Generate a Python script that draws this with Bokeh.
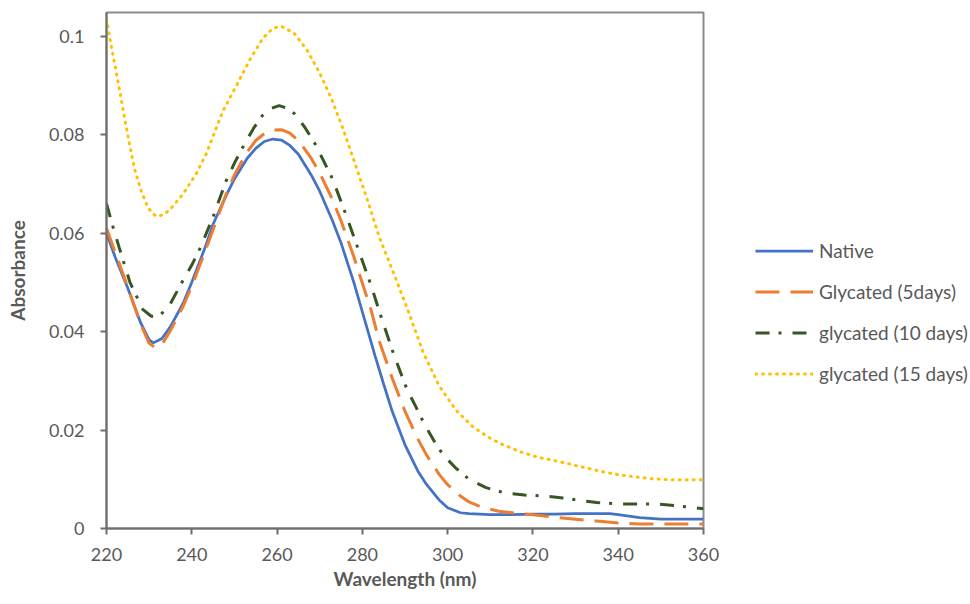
from bokeh.plotting import figure
from bokeh.models import Legend, LegendItem, FixedTicker, Range1d, CustomJSTickFormatter
from bokeh.embed import file_html
from bokeh.resources import INLINE

# ---- data ----
native_nm = [220, 222, 225, 228, 230, 231, 233, 235, 238, 240,
             243, 245, 248, 250, 253, 255, 257, 259, 261, 263,
             265, 268, 270, 273, 275, 278, 280, 283, 285, 287,
             290, 293, 295, 298, 300, 303, 305, 310, 315, 320,
             325, 330, 335, 338, 340, 345, 350, 355, 360]
native_abs = [0.0600, 0.0552, 0.0488, 0.0418, 0.0383, 0.0377, 0.0386, 0.0410, 0.0458, 0.0500,
              0.0568, 0.0618, 0.0675, 0.0710, 0.0752, 0.0772, 0.0786, 0.0791, 0.0789, 0.0778,
              0.0760, 0.0718, 0.0685, 0.0625, 0.0580, 0.0500, 0.0440, 0.0350, 0.0293, 0.0238,
              0.0170, 0.0117, 0.0090, 0.0058, 0.0042, 0.0032, 0.0030, 0.0028, 0.0028, 0.0029,
              0.0029, 0.0030, 0.0030, 0.0030, 0.0028, 0.0022, 0.0019, 0.0019, 0.0019]

glyc5_nm = [220, 222, 225, 228, 230, 231.5, 233, 235, 238, 240,
            243, 245, 248, 250, 253, 255, 257, 259, 261, 263,
            265, 268, 270, 273, 275, 278, 280, 282, 284, 287,
            290, 293, 295, 298, 300, 303, 305, 308, 312, 316,
            320, 325, 330, 335, 340, 345, 350, 355, 360]
glyc5_abs = [0.0610, 0.0562, 0.0490, 0.0415, 0.0376, 0.0367, 0.0374, 0.0402, 0.0452, 0.0492,
             0.0560, 0.0607, 0.0678, 0.0718, 0.0765, 0.0788, 0.0802, 0.0809, 0.0810, 0.0803,
             0.0788, 0.0752, 0.0722, 0.0668, 0.0625, 0.0552, 0.0498, 0.0445, 0.0380, 0.0305,
             0.0238, 0.0182, 0.0150, 0.0110, 0.0089, 0.0066, 0.0054, 0.0043, 0.0035, 0.0031,
             0.0028, 0.0023, 0.0019, 0.0015, 0.0011, 0.0009, 0.0009, 0.0009, 0.0009]

glyc10_nm = [220, 221.5, 223, 225.5, 228.5, 230.5, 232.5, 235, 237.5, 240,
             242, 245, 248, 250, 252, 254.5, 256.5, 258.5, 260.5, 262.5,
             264, 266.5, 269, 271, 273, 276, 279, 282, 284.5, 287.5,
             290.5, 292.5, 294.5, 297, 299, 302, 305, 309, 313.5, 318,
             322.5, 327, 331, 335, 340, 344, 349, 354, 358, 360]
glyc10_abs = [0.0660, 0.0613, 0.0570, 0.0500, 0.0445, 0.0431, 0.0432, 0.0457, 0.0497, 0.0535,
              0.0570, 0.0633, 0.0705, 0.0742, 0.0775, 0.0813, 0.0838, 0.0853, 0.0859, 0.0853,
              0.0843, 0.0815, 0.0780, 0.0745, 0.0710, 0.0641, 0.0568, 0.0495, 0.0427, 0.0350,
              0.0282, 0.0248, 0.0213, 0.0175, 0.0149, 0.0122, 0.0100, 0.0083, 0.0072, 0.0068,
              0.0066, 0.0062, 0.0057, 0.0053, 0.0050, 0.0050, 0.0050, 0.0046, 0.0042, 0.0040]

glyc15_nm = [220, 221, 222, 223, 224.2, 225.4, 226.6, 228.1, 229.7, 231,
             232, 233.5, 235, 238, 241, 243.5, 245.5, 247.3, 250.5, 253.6,
             256.7, 259, 261, 264, 267, 270, 272.8, 275.5, 278, 281,
             284, 287.3, 290.4, 294.3, 298, 302, 306, 310, 313, 317,
             321, 325.6, 329, 333, 337, 341, 344, 348, 352, 356,
             360]
glyc15_abs = [0.1035, 0.0985, 0.0940, 0.0893, 0.0836, 0.0780, 0.0730, 0.0686, 0.0652, 0.0638,
              0.0634, 0.0638, 0.0649, 0.0680, 0.0720, 0.0763, 0.0808, 0.0848, 0.0900, 0.0952,
              0.0996, 0.1016, 0.1020, 0.1006, 0.0972, 0.0925, 0.0872, 0.0811, 0.0748, 0.0672,
              0.0591, 0.0519, 0.0450, 0.0357, 0.0290, 0.0240, 0.0206, 0.0183, 0.0170, 0.0156,
              0.0145, 0.0137, 0.0130, 0.0122, 0.0114, 0.0108, 0.0105, 0.0101, 0.0099, 0.0099,
              0.0099]

series_labels = ["Native", "Glycated (5days)", "glycated (10 days)", "glycated (15 days)"]
x_ticks = [220, 240, 260, 280, 300, 320, 340, 360]
y_ticks = [0, 0.02, 0.04, 0.06, 0.08, 0.1]

TEXT = "#595959"
FONT = "Lato"

p = figure(frame_width=597, frame_height=516, output_backend="svg", toolbar_location=None,
           x_range=Range1d(220, 360), y_range=Range1d(0, 0.1048),
           min_border_left=106, min_border_right=0, min_border_top=12, min_border_bottom=68)

r1 = p.line(native_nm, native_abs, line_color="#4472C4", line_width=2.75)
r2 = p.line(glyc5_nm, glyc5_abs, line_color="#ED7D31", line_width=3, line_dash="24 11")
r3 = p.line(glyc10_nm, glyc10_abs, line_color="#375623", line_width=3, line_dash="14 9 3 11")
r4 = p.line(glyc15_nm, glyc15_abs, line_color="#FFC000", line_width=3, line_dash="1 6",
            line_cap="round")

p.grid.visible = False
p.outline_line_color = "#8c8c8c"
p.outline_line_width = 2
p.background_fill_color = "white"
p.border_fill_color = "white"

p.xaxis.ticker = FixedTicker(ticks=x_ticks)
p.yaxis.ticker = FixedTicker(ticks=y_ticks)
p.yaxis.formatter = CustomJSTickFormatter(
    code="var s = tick.toFixed(2); s = s.replace(/0+$/, ''); s = s.replace(/\\.$/, ''); return s;")

for ax in (p.xaxis[0], p.yaxis[0]):
    ax.axis_line_color = "#6e6e6e"
    ax.axis_line_width = 2
    ax.major_tick_line_color = "#6e6e6e"
    ax.major_tick_line_width = 2
    ax.major_tick_out = 6
    ax.major_tick_in = 0
    ax.minor_tick_line_color = None
    ax.major_label_text_font = FONT
    ax.major_label_text_font_size = "18px"
    ax.major_label_text_color = TEXT
    ax.axis_label_text_font = FONT
    ax.axis_label_text_font_size = "19px"
    ax.axis_label_text_font_style = "bold"
    ax.axis_label_text_color = TEXT

p.xaxis.axis_label = "Wavelength (nm)"
p.yaxis.axis_label = "Absorbance"
p.xaxis.major_label_standoff = 13
p.yaxis.major_label_standoff = 16
p.xaxis.axis_label_standoff = 3
p.yaxis.axis_label_standoff = 17

legend = Legend(
    items=[LegendItem(label=series_labels[0], renderers=[r1]),
           LegendItem(label=series_labels[1], renderers=[r2]),
           LegendItem(label=series_labels[2], renderers=[r3]),
           LegendItem(label=series_labels[3], renderers=[r4])],
    location=(52, 143), orientation="vertical",
    border_line_alpha=0, background_fill_alpha=0,
    padding=0, margin=26, spacing=18,
    glyph_width=58, glyph_height=21, label_height=21, label_standoff=6,
    label_text_font=FONT, label_text_font_size="19px", label_text_color=TEXT,
)
p.add_layout(legend, "right")

open("out.html", "w").write(file_html(p, INLINE))
